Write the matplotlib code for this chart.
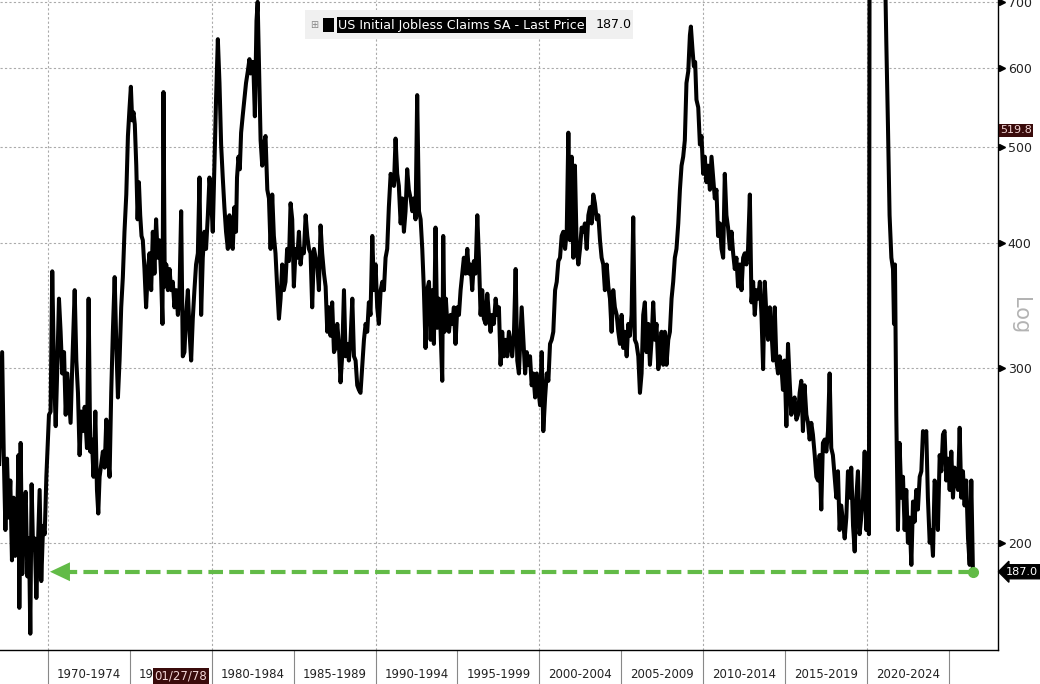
import matplotlib
matplotlib.use("Agg")
import matplotlib.pyplot as plt
from matplotlib.patches import Rectangle
from matplotlib.ticker import NullLocator

# weekly initial claims (thousands); x is decimal year
week = [
    1967.02, 1967.2, 1967.3, 1967.4, 1967.5, 1967.6, 1967.7, 1967.8, 1967.9, 1968.0,
    1968.1, 1968.2, 1968.25, 1968.33, 1968.43, 1968.54, 1968.64, 1968.74, 1968.84, 1968.92,
    1969.0, 1969.09, 1969.19, 1969.29, 1969.39, 1969.49, 1969.59, 1969.7, 1969.8, 1969.9,
    1970.06, 1970.16, 1970.26, 1970.37, 1970.47, 1970.57, 1970.67, 1970.77, 1970.87, 1970.98,
    1971.08, 1971.18, 1971.28, 1971.38, 1971.48, 1971.63, 1971.73, 1971.83, 1971.93, 1972.03,
    1972.13, 1972.24, 1972.38, 1972.48, 1972.58, 1972.68, 1972.78, 1972.89, 1972.99, 1973.07,
    1973.15, 1973.25, 1973.35, 1973.46, 1973.56, 1973.66, 1973.76, 1973.86, 1973.96, 1974.07,
    1974.17, 1974.27, 1974.37, 1974.47, 1974.57, 1974.67, 1974.78, 1974.88, 1974.98, 1975.06,
    1975.14, 1975.22, 1975.3, 1975.39, 1975.47, 1975.55, 1975.63, 1975.71, 1975.79, 1975.89,
    1975.99, 1976.1, 1976.2, 1976.3, 1976.4, 1976.5, 1976.6, 1976.7, 1976.8, 1976.9,
    1976.99, 1977.05, 1977.13, 1977.22, 1977.32, 1977.42, 1977.52, 1977.62, 1977.72, 1977.83,
    1977.93, 1978.03, 1978.13, 1978.23, 1978.33, 1978.43, 1978.54, 1978.64, 1978.74, 1978.84,
    1978.94, 1979.04, 1979.15, 1979.25, 1979.35, 1979.45, 1979.55, 1979.65, 1979.76, 1979.86,
    1979.96, 1980.06, 1980.16, 1980.26, 1980.37, 1980.47, 1980.57, 1980.67, 1980.77, 1980.87,
    1980.98, 1981.08, 1981.18, 1981.28, 1981.38, 1981.48, 1981.54, 1981.63, 1981.71, 1981.79,
    1981.89, 1981.99, 1982.09, 1982.2, 1982.3, 1982.37, 1982.47, 1982.53, 1982.63, 1982.73,
    1982.8, 1982.88, 1982.98, 1983.08, 1983.18, 1983.28, 1983.39, 1983.49, 1983.59, 1983.69,
    1983.79, 1983.89, 1983.99, 1984.1, 1984.2, 1984.3, 1984.4, 1984.5, 1984.6, 1984.71,
    1984.81, 1984.91, 1985.01, 1985.12, 1985.22, 1985.32, 1985.42, 1985.52, 1985.62, 1985.73,
    1985.83, 1985.93, 1986.03, 1986.13, 1986.24, 1986.34, 1986.44, 1986.54, 1986.64, 1986.74,
    1986.85, 1986.95, 1987.05, 1987.15, 1987.25, 1987.35, 1987.46, 1987.56, 1987.66, 1987.76,
    1987.86, 1987.96, 1988.07, 1988.17, 1988.27, 1988.37, 1988.47, 1988.58, 1988.68, 1988.78,
    1988.88, 1988.98, 1989.08, 1989.19, 1989.29, 1989.39, 1989.49, 1989.59, 1989.69, 1989.8,
    1989.9, 1990.0, 1990.1, 1990.2, 1990.31, 1990.41, 1990.51, 1990.61, 1990.71, 1990.81,
    1990.92, 1991.02, 1991.12, 1991.22, 1991.32, 1991.42, 1991.53, 1991.63, 1991.73, 1991.83,
    1991.93, 1992.03, 1992.14, 1992.24, 1992.34, 1992.44, 1992.54, 1992.65, 1992.75, 1992.85,
    1992.95, 1993.05, 1993.15, 1993.26, 1993.36, 1993.46, 1993.56, 1993.66, 1993.76, 1993.87,
    1993.97, 1994.07, 1994.13, 1994.21, 1994.29, 1994.38, 1994.48, 1994.58, 1994.68, 1994.78,
    1994.88, 1994.99, 1995.09, 1995.19, 1995.29, 1995.39, 1995.49, 1995.6, 1995.7, 1995.8,
    1995.9, 1996.0, 1996.1, 1996.21, 1996.31, 1996.41, 1996.51, 1996.61, 1996.72, 1996.82,
    1996.92, 1997.02, 1997.12, 1997.22, 1997.33, 1997.43, 1997.53, 1997.63, 1997.73, 1997.83,
    1997.94, 1998.04, 1998.14, 1998.24, 1998.34, 1998.45, 1998.55, 1998.65, 1998.75, 1998.92,
    1999.02, 1999.13, 1999.23, 1999.33, 1999.43, 1999.53, 1999.63, 1999.74, 1999.84, 1999.94,
    2000.04, 2000.14, 2000.24, 2000.35, 2000.45, 2000.55, 2000.65, 2000.75, 2000.85, 2000.96,
    2001.06, 2001.16, 2001.26, 2001.36, 2001.46, 2001.57, 2001.67, 2001.77, 2001.87, 2001.97,
    2002.07, 2002.17, 2002.28, 2002.38, 2002.48, 2002.58, 2002.68, 2002.78, 2002.89, 2002.99,
    2003.09, 2003.19, 2003.29, 2003.39, 2003.5, 2003.6, 2003.7, 2003.8, 2003.9, 2004.0,
    2004.11, 2004.21, 2004.31, 2004.41, 2004.51, 2004.61, 2004.72, 2004.82, 2004.92, 2005.02,
    2005.12, 2005.22, 2005.33, 2005.43, 2005.53, 2005.63, 2005.73, 2005.83, 2005.93, 2006.04,
    2006.14, 2006.24, 2006.34, 2006.44, 2006.54, 2006.65, 2006.75, 2006.85, 2006.95, 2007.05,
    2007.15, 2007.26, 2007.36, 2007.46, 2007.56, 2007.66, 2007.76, 2007.87, 2007.97, 2008.07,
    2008.17, 2008.27, 2008.37, 2008.48, 2008.58, 2008.68, 2008.78, 2008.88, 2008.98, 2009.09,
    2009.19, 2009.25, 2009.35, 2009.43, 2009.51, 2009.59, 2009.7, 2009.8, 2009.9, 2010.0,
    2010.1, 2010.2, 2010.3, 2010.41, 2010.51, 2010.61, 2010.71, 2010.81, 2010.91, 2011.02,
    2011.12, 2011.22, 2011.32, 2011.42, 2011.52, 2011.63, 2011.73, 2011.83, 2011.93, 2012.03,
    2012.13, 2012.24, 2012.34, 2012.44, 2012.54, 2012.64, 2012.74, 2012.85, 2012.95, 2013.05,
    2013.15, 2013.25, 2013.35, 2013.46, 2013.56, 2013.66, 2013.76, 2013.86, 2013.96, 2014.07,
    2014.17, 2014.27, 2014.37, 2014.47, 2014.57, 2014.67, 2014.77, 2014.87, 2014.97, 2015.08,
    2015.18, 2015.28, 2015.38, 2015.48, 2015.58, 2015.69, 2015.79, 2015.89, 2015.99, 2016.09,
    2016.19, 2016.3, 2016.4, 2016.5, 2016.6, 2016.7, 2016.81, 2016.91, 2017.01, 2017.11,
    2017.21, 2017.31, 2017.42, 2017.52, 2017.62, 2017.72, 2017.82, 2017.92, 2018.03, 2018.13,
    2018.23, 2018.33, 2018.43, 2018.53, 2018.64, 2018.74, 2018.84, 2018.94, 2019.04, 2019.15,
    2019.25, 2019.35, 2019.45, 2019.55, 2019.65, 2019.76, 2019.86, 2019.96, 2020.06, 2020.12,
    2020.2, 2020.24, 2020.3, 2020.4, 2020.5, 2020.7, 2020.9, 2021.0, 2021.1, 2021.18,
    2021.28, 2021.38, 2021.49, 2021.59, 2021.65, 2021.71, 2021.79, 2021.89, 2021.99, 2022.1,
    2022.2, 2022.3, 2022.4, 2022.5, 2022.6, 2022.71, 2022.81, 2022.91, 2023.01, 2023.11,
    2023.22, 2023.32, 2023.42, 2023.52, 2023.62, 2023.72, 2023.83, 2023.93, 2024.03, 2024.13,
    2024.23, 2024.33, 2024.44, 2024.54, 2024.64, 2024.74, 2024.84, 2024.95, 2025.05, 2025.15,
    2025.25, 2025.35, 2025.45, 2025.56, 2025.66, 2025.76, 2025.86, 2025.96, 2026.06, 2026.17,
    2026.27, 2026.37, 2026.47,
]
claims = [
    240, 311, 245, 206, 243, 212, 231, 192, 222, 194,
    204, 245, 172, 252, 186, 212, 225, 185, 202, 162,
    229, 197, 202, 176, 200, 226, 183, 208, 204, 233,
    269, 271, 375, 296, 262, 301, 352, 326, 296, 311,
    269, 296, 280, 264, 301, 359, 305, 283, 245, 271,
    259, 274, 249, 352, 247, 254, 233, 271, 226, 214,
    233, 240, 247, 238, 266, 245, 233, 283, 326, 370,
    317, 280, 305, 345, 370, 411, 448, 513, 548, 575,
    532, 542, 527, 479, 423, 461, 427, 407, 403, 377,
    345, 377, 391, 359, 411, 373, 423, 387, 403, 373,
    332, 568, 362, 381, 359, 377, 359, 366, 345, 359,
    339, 359, 431, 308, 311, 339, 359, 326, 305, 336,
    359, 381, 391, 466, 339, 387, 411, 395, 427, 466,
    444, 411, 479, 558, 642, 580, 503, 466, 435, 411,
    395, 427, 399, 395, 435, 411, 466, 489, 475, 517,
    538, 558, 580, 596, 613, 593, 609, 609, 537, 670,
    700, 609, 508, 479, 503, 513, 453, 444, 395, 448,
    407, 391, 362, 336, 352, 381, 359, 366, 395, 384,
    439, 423, 362, 395, 387, 411, 381, 395, 391, 427,
    407, 395, 391, 345, 395, 387, 381, 359, 417, 391,
    373, 362, 326, 345, 323, 349, 311, 314, 332, 317,
    290, 308, 359, 308, 317, 305, 320, 352, 308, 305,
    288, 285, 283, 302, 320, 332, 326, 349, 339, 407,
    359, 381, 345, 332, 359, 366, 359, 387, 395, 435,
    470, 461, 457, 510, 470, 457, 419, 444, 411, 431,
    475, 453, 444, 431, 444, 423, 564, 431, 423, 395,
    359, 314, 359, 366, 320, 359, 317, 415, 329, 352,
    326, 291, 407, 326, 352, 332, 326, 339, 332, 345,
    317, 345, 339, 359, 373, 387, 373, 395, 373, 381,
    359, 384, 373, 427, 387, 339, 359, 336, 332, 356,
    339, 326, 339, 332, 352, 339, 345, 302, 326, 308,
    320, 308, 326, 317, 308, 326, 377, 305, 296, 345,
    320, 296, 311, 302, 308, 288, 296, 280, 296, 285,
    275, 311, 259, 280, 296, 291, 317, 320, 326, 359,
    366, 384, 387, 407, 411, 395, 411, 517, 403, 489,
    387, 479, 395, 381, 395, 415, 411, 419, 395, 427,
    435, 419, 448, 439, 423, 427, 403, 387, 381, 359,
    381, 362, 352, 326, 359, 345, 339, 326, 317, 339,
    314, 326, 308, 332, 323, 339, 425, 320, 317, 308,
    283, 296, 339, 349, 311, 332, 302, 320, 349, 320,
    332, 299, 308, 326, 302, 326, 302, 320, 326, 352,
    366, 387, 395, 419, 453, 479, 489, 508, 580, 596,
    648, 661, 626, 603, 609, 558, 548, 503, 513, 470,
    489, 461, 479, 453, 489, 466, 444, 453, 407, 419,
    395, 387, 470, 427, 415, 395, 411, 391, 377, 387,
    362, 381, 359, 387, 391, 381, 395, 448, 349, 366,
    339, 359, 352, 366, 339, 299, 366, 339, 320, 345,
    326, 305, 345, 305, 296, 308, 302, 285, 305, 262,
    317, 291, 269, 275, 280, 266, 269, 283, 291, 259,
    288, 269, 264, 254, 264, 257, 245, 233, 231, 245,
    216, 252, 254, 247, 259, 296, 249, 245, 233, 222,
    236, 206, 218, 210, 202, 212, 236, 222, 238, 208,
    196, 222, 236, 204, 212, 222, 247, 206, 231, 204,
    3300, 6100, 4300, 2100, 1450, 890, 780, 900, 760, 639,
    527, 427, 387, 377, 332, 381, 269, 206, 252, 222,
    233, 206, 226, 200, 212, 190, 220, 210, 226, 216,
    233, 236, 259, 254, 259, 222, 200, 206, 194, 231,
    226, 206, 245, 236, 257, 259, 231, 243, 226, 247,
    222, 238, 231, 226, 261, 222, 236, 218, 231, 202,
    190, 231, 187,
]

y_ticks = [200, 300, 400, 500, 600, 700]
band_edges = list(range(1970, 2030, 5))
band_labels = [f"{y}-{y + 4}" for y in band_edges[:-1]]
decades = [1970, 1980, 1990, 2000, 2010, 2020]
hover_value = 519.8
hover_date = "01/27/78"
arrow_tip = 1970.12

W, H = 1040, 684
GREEN = "#62bb47"

fig = plt.figure(figsize=(W / 100, H / 100), dpi=100)
ax = fig.add_axes([0, 34 / H, 998 / W, 650 / H])

ax.plot(week, claims, color="black", lw=2.9, solid_joinstyle="round", zorder=3)

ax.set_yscale("log")
ax.set_ylim(156, 703)
ax.set_xlim(1967.07, 2028.0)

# grid
for d in decades:
    ax.axvline(d, color="#aaaaaa", lw=0.8, ls=(0, (2, 2)), zorder=1)
for t in y_ticks:
    ax.axhline(t, color="#aaaaaa", lw=0.8, ls=(0, (2, 2)), zorder=1)

# right log axis, ticks drawn as small arrowheads
ax.yaxis.tick_right()
ax.set_yticks(y_ticks)
ax.set_yticklabels([str(t) for t in y_ticks])
ax.yaxis.set_minor_locator(NullLocator())
ax.tick_params(axis="y", which="major", length=0, pad=7,
               labelsize=9, labelcolor="#222222")
ax.plot([1.004] * len(y_ticks), y_ticks, ">", color="black", ms=5,
        transform=ax.get_yaxis_transform(), clip_on=False, zorder=6)

# bottom bands
ax.set_xticks(band_edges)
ax.set_xticks([e + 2.5 for e in band_edges[:-1]], minor=True)
ax.set_xticklabels(band_labels, minor=True)
ax.tick_params(axis="x", which="major", length=24.5, width=0.8,
               color="#888888", labelbottom=False)
ax.tick_params(axis="x", which="minor", length=0, pad=13,
               labelsize=8.5, labelcolor="#222222")

for s in ["left", "top"]:
    ax.spines[s].set_visible(False)
for s in ["bottom", "right"]:
    ax.spines[s].set_color("black")
    ax.spines[s].set_linewidth(1)

# green dashed arrow back to the late-60s low
last_x, last_y = week[-1], claims[-1]
ax.plot([last_x, arrow_tip + 1.0], [last_y, last_y], color=GREEN, lw=3,
        dashes=(3.5, 1.5), zorder=4)
ax.plot([last_x], [last_y], "o", color=GREEN, ms=7, zorder=5)
ax.annotate("", xy=(arrow_tip, last_y), xytext=(arrow_tip + 1.25, last_y),
            arrowprops=dict(arrowstyle="-|>,head_length=0.72,head_width=0.34",
                            mutation_scale=20, color=GREEN, lw=0,
                            shrinkA=0, shrinkB=0), zorder=5)

# right-side value tags
ax.text(1.008, last_y, f"{last_y:.1f}", transform=ax.get_yaxis_transform(),
        ha="left", va="center", fontsize=8.1, color="white",
        bbox=dict(boxstyle="larrow,pad=0.18", fc="black", ec="black"))
ax.text(1.002, hover_value, f"{hover_value:.1f}", transform=ax.get_yaxis_transform(),
        ha="left", va="center", fontsize=8, color="#f2d6d6",
        bbox=dict(boxstyle="square,pad=0.12", fc="#3a0b0b", ec="none"))

fig.text(1020 / W, 1 - 316 / H, "Log", rotation=270, ha="center", va="center",
         fontsize=15, color="#b3b3b3")

# crosshair date tag on the x axis
fig.text(181 / W, 1 - 676 / H, hover_date, ha="center", va="center",
         fontsize=8.5, color="#f2d6d6",
         bbox=dict(boxstyle="square,pad=0.15", fc="#3a0b0b", ec="none"))

# legend strip
fig.patches.append(Rectangle((305 / W, 1 - 39 / H), 328 / W, 29 / H,
                             transform=fig.transFigure, fc="#f0f0f0", ec="none"))
fig.text(314 / W, 1 - 25 / H, "\u229e", ha="center", va="center",
         fontsize=7, color="#888888")
fig.patches.append(Rectangle((323 / W, 1 - 32 / H), 11 / W, 14 / H,
                             transform=fig.transFigure, fc="black", ec="none"))
fig.text(338 / W, 1 - 25 / H, "US Initial Jobless Claims SA - Last Price",
         ha="left", va="center", fontsize=9.1, color="white",
         bbox=dict(boxstyle="square,pad=0.1", fc="black", ec="none"))
fig.text(596 / W, 1 - 25 / H, f"{last_y:.1f}", ha="left", va="center",
         fontsize=9.1, color="black")

fig.savefig("out.png", dpi=100)
